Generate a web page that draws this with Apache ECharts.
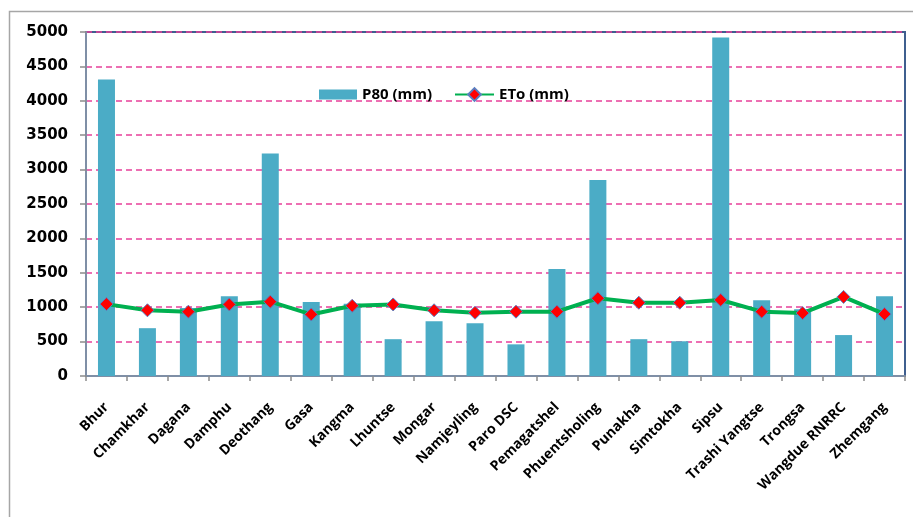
<!DOCTYPE html>
<html style="height: 100%">
    <head>
        <meta charset="utf-8">
    </head>
    <body style="height: 100%; margin: 0">
        <div id="container" style="height: 100%"></div>

        <script type="text/javascript" src="https://cdn.jsdelivr.net/npm/echarts@6/dist/echarts.min.js"></script>

        <script type="text/javascript">
var dom = document.getElementById("container");
var myChart = echarts.init(dom);

var stations = ['Bhur', 'Chamkhar', 'Dagana', 'Damphu', 'Deothang', 'Gasa', 'Kangma',
    'Lhuntse', 'Mongar', 'Namjeyling', 'Paro DSC', 'Pemagatshel', 'Phuentsholing',
    'Punakha', 'Simtokha', 'Sipsu', 'Trashi Yangtse', 'Trongsa', 'Wangdue RNRRC', 'Zhemgang'];

var p80 = [4310, 695, 990, 1160, 3235, 1075, 1050, 535, 795, 765, 460, 1555,
    2850, 535, 505, 4920, 1100, 970, 595, 1160];

var eto = [1045, 955, 935, 1040, 1080, 895, 1020, 1040, 955, 920, 935, 935,
    1130, 1065, 1065, 1105, 935, 915, 1150, 900];

var yTicks = [0, 5000, 500];

var legendText = {
    fontFamily: 'Open Sans',
    fontWeight: 'bold',
    fontSize: 15,
    color: '#000'
};

var option = {
    animation: false,
    textStyle: {
        fontFamily: 'Liberation Sans'
    },
    graphic: [{
        type: 'polyline',
        shape: { points: [[9.5, 530], [9.5, 11.5], [920, 11.5]] },
        style: { stroke: '#a6a6a6', lineWidth: 1.5, fill: null }
    }],
    legend: [{
        left: 314,
        top: 82,
        itemWidth: 38,
        itemHeight: 10,
        textStyle: legendText,
        data: [{ name: 'P80 (mm)', icon: 'rect' }]
    }, {
        left: 449,
        top: 82,
        itemWidth: 39,
        itemHeight: 16,
        textStyle: legendText,
        data: ['ETo (mm)']
    }],
    grid: {
        left: 86,
        right: 8,
        top: 32,
        bottom: 141,
        show: true,
        borderColor: '#3f5f8f',
        borderWidth: 2
    },
    xAxis: {
        type: 'category',
        data: stations,
        axisLine: {
            lineStyle: { color: '#7f8fa6', width: 2 }
        },
        axisTick: {
            show: true,
            length: 5,
            lineStyle: { color: '#8c8c8c', width: 1.5 }
        },
        axisLabel: {
            rotate: 45,
            interval: 0,
            margin: 29,
            fontFamily: 'Open Sans',
            fontWeight: 'bold',
            fontSize: 14,
            color: '#000'
        }
    },
    yAxis: {
        type: 'value',
        min: yTicks[0],
        max: yTicks[1],
        interval: yTicks[2],
        axisLine: {
            show: true,
            lineStyle: { color: '#7f8fa6', width: 2 }
        },
        axisTick: {
            show: true,
            length: 6,
            lineStyle: { color: '#8c8c8c', width: 1.5 }
        },
        axisLabel: {
            margin: 18,
            formatter: function (v) { return String(v); },
            fontFamily: 'DejaVu Sans',
            fontWeight: 'bold',
            fontSize: 15,
            color: '#000'
        },
        splitLine: {
            lineStyle: {
                color: '#e8409a',
                width: 1.5,
                type: [6, 4]
            }
        }
    },
    series: [{
        name: 'P80 (mm)',
        type: 'bar',
        data: p80,
        barWidth: 17,
        itemStyle: { color: '#4bacc6' }
    }, {
        name: 'ETo (mm)',
        type: 'line',
        data: eto,
        symbol: 'diamond',
        symbolSize: 13,
        lineStyle: { color: '#00b050', width: 4 },
        itemStyle: {
            color: '#ff0000',
            borderColor: '#5b7fc0',
            borderWidth: 1
        }
    }]
};

if (option && typeof option === 'object') {
    myChart.setOption(option);
}
        </script>
    </body>
</html>
